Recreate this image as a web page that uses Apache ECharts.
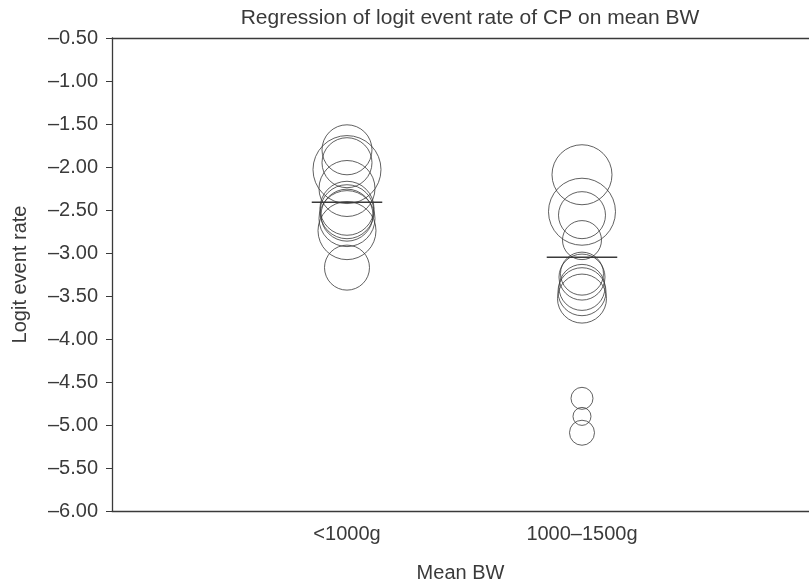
<!DOCTYPE html>
<html>
<head>
<meta charset="utf-8">
<script src="https://cdn.jsdelivr.net/npm/echarts@6/dist/echarts.min.js"></script>
<style>
  html, body { margin: 0; padding: 0; background: #fff; }
  #chart { width: 809px; height: 583px; }
</style>
</head>
<body>
<div id="chart"></div>
<script>
// categories on the x axis
const categories = ['<1000g', '1000\u20131500g'];

// logit event rate per study, and its relative weight (bubble diameter)
const lowBwRates   = [-1.80, -1.95, -2.03, -2.25, -2.48, -2.52, -2.56, -2.60, -2.74, -3.17];
const lowBwWeights = [50, 50, 68, 56, 54, 54, 52, 56, 58, 45];

const midBwRates   = [-2.09, -2.52, -2.56, -2.85, -3.24, -3.28, -3.40, -3.45, -3.53, -4.69, -4.90, -5.09];
const midBwWeights = [60, 67, 47, 39, 43, 46, 46, 48, 49, 22, 18, 25];

// fitted regression level per category
const regression = [-2.41, -3.05];

const yTicks = { min: -6, max: -0.5, step: 0.5 };

const ink = '#3a3a3a';
const font = 'Liberation Sans, Arial, Helvetica, sans-serif';

function toPoints(rates, weights, idx) {
  return rates.map((r, i) => [idx + 1, r, weights[i]]);
}

const chart = echarts.init(document.getElementById('chart'));

chart.setOption({
  animation: false,
  backgroundColor: '#fff',
  title: {
    text: 'Regression of logit event rate of CP on mean BW',
    left: 465,
    textAlign: 'center',
    top: 3,
    textStyle: { fontFamily: font, fontSize: 21, fontWeight: 'normal', color: ink }
  },
  grid: { left: 112, top: 38, right: 0, bottom: 72, containLabel: false, outerBoundsMode: 'none' },
  xAxis: [
    {
      type: 'value',
      min: 0,
      max: 2.966,
      interval: 1,
      name: 'Mean BW',
      nameLocation: 'middle',
      nameGap: 52,
      nameTextStyle: { fontFamily: font, fontSize: 20, color: ink },
      axisLine: { show: true, onZero: false, lineStyle: { color: ink, width: 1.3 } },
      axisTick: { show: false },
      splitLine: { show: false },
      axisLabel: {
        margin: 13,
        fontFamily: font, fontSize: 20, color: ink,
        formatter: v => categories[Math.round(v) - 1] || '',
        showMinLabel: false, showMaxLabel: false
      }
    },
    {
      type: 'value',
      position: 'top',
      min: 0,
      max: 2.966,
      axisLine: { show: true, onZero: false, lineStyle: { color: ink, width: 1.3 } },
      axisTick: { show: false },
      axisLabel: { show: false },
      splitLine: { show: false }
    }
  ],
  yAxis: {
    type: 'value',
    min: yTicks.min,
    max: yTicks.max,
    interval: yTicks.step,
    name: 'Logit event rate',
    nameLocation: 'middle',
    nameGap: 82,
    nameTextStyle: { fontFamily: font, fontSize: 20, color: ink },
    axisLine: { show: true, onZero: false, lineStyle: { color: ink, width: 1.3 } },
    axisTick: { show: true, length: 6, lineStyle: { color: ink } },
    splitLine: { show: false },
    axisLabel: {
      margin: 14,
      fontFamily: font, fontSize: 20, color: ink,
      formatter: v => v.toFixed(2).replace('-', '\u2013')
    }
  },
  series: [
    ...[toPoints(lowBwRates, lowBwWeights, 0), toPoints(midBwRates, midBwWeights, 1)].map(pts => ({
      type: 'scatter',
      data: pts,
      symbol: 'circle',
      symbolSize: d => d[2],
      itemStyle: { color: 'rgba(0,0,0,0)', borderColor: ink, borderWidth: 1 },
      emphasis: { disabled: true }
    })),
    {
      type: 'custom',
      data: regression.map((lvl, i) => [i + 1, lvl]),
      renderItem: (params, api) => {
        const a = api.coord([api.value(0) - 0.15, api.value(1)]);
        const b = api.coord([api.value(0) + 0.15, api.value(1)]);
        return {
          type: 'line',
          shape: { x1: a[0], y1: a[1], x2: b[0], y2: b[1] },
          style: { stroke: ink, lineWidth: 1.5 }
        };
      },
      z: 3
    }
  ]
});
</script>
</body>
</html>
